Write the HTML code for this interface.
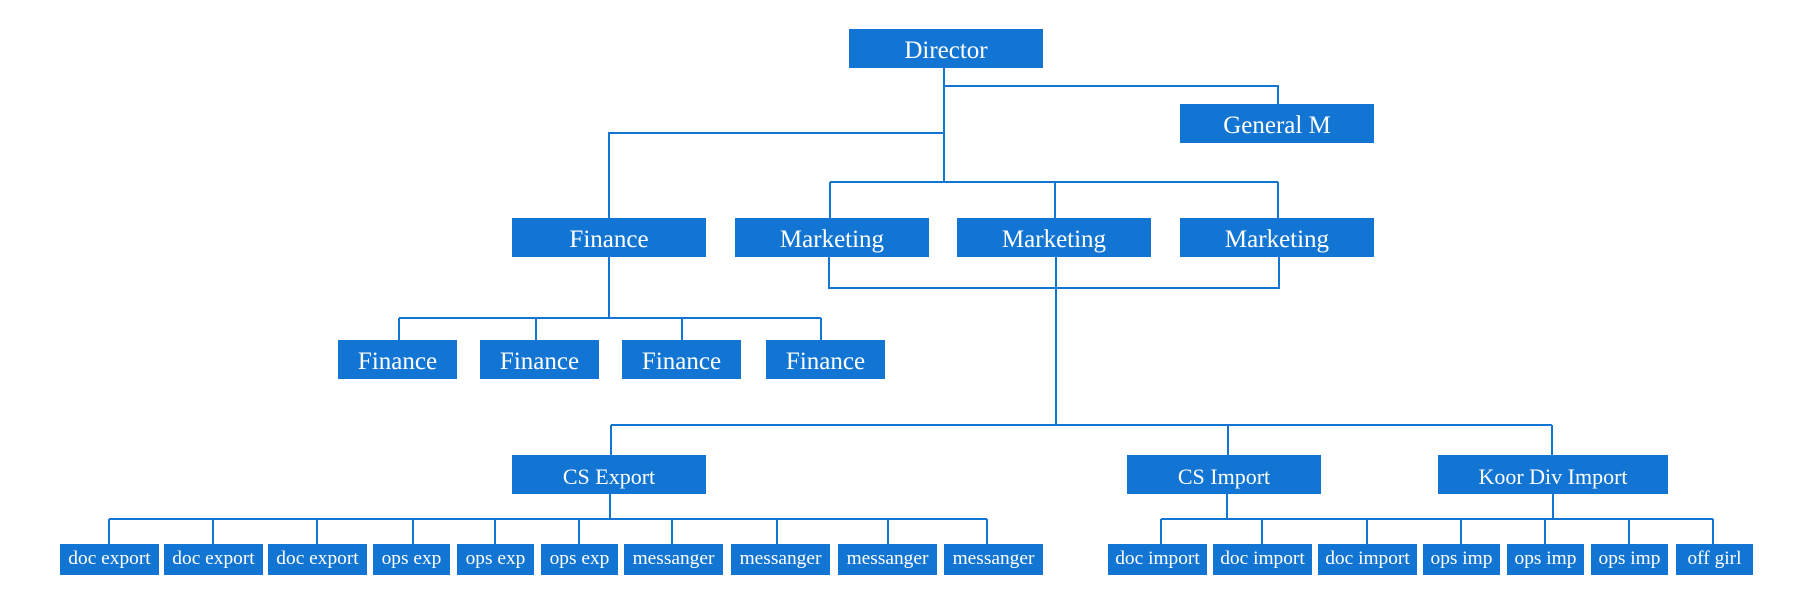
<!DOCTYPE html>
<html>
<head>
<meta charset="utf-8">
<style>
  html,body{margin:0;padding:0;background:#ffffff;}
  svg{display:block;}
  text{font-family:"Liberation Serif","Times New Roman",serif;fill:#ffffff;text-anchor:middle;}
</style>
</head>
<body>
<svg width="1817" height="609" viewBox="0 0 1817 609" xmlns="http://www.w3.org/2000/svg">
  <rect x="0" y="0" width="1817" height="609" fill="#ffffff"/>
  <g stroke="#1375d3" stroke-width="2" fill="none" shape-rendering="crispEdges">
    <!-- Director stem -->
    <path d="M944 68 V182"/>
    <!-- to General M -->
    <path d="M944 86 H1278 V104"/>
    <!-- to Finance -->
    <path d="M944 133 H609 V218"/>
    <!-- Marketing top bar -->
    <path d="M830 182 H1278"/>
    <path d="M830 182 V218"/>
    <path d="M1055 182 V218"/>
    <path d="M1278 182 V218"/>
    <!-- Marketing bottom bar -->
    <path d="M829 257 V288 H1279 V257"/>
    <path d="M1056 257 V425"/>
    <!-- Big bar -->
    <path d="M611 425 H1552"/>
    <path d="M611 425 V455"/>
    <path d="M1228 425 V455"/>
    <path d="M1552 425 V455"/>
    <!-- Finance children -->
    <path d="M609 257 V318"/>
    <path d="M399 318 H821"/>
    <path d="M399 318 V340"/>
    <path d="M536 318 V340"/>
    <path d="M682 318 V340"/>
    <path d="M821 318 V340"/>
    <!-- CS Export children -->
    <path d="M610 494 V519"/>
    <path d="M109 519 H987"/>
    <path d="M109 519 V544"/>
    <path d="M213 519 V544"/>
    <path d="M317 519 V544"/>
    <path d="M413 519 V544"/>
    <path d="M495 519 V544"/>
    <path d="M579 519 V544"/>
    <path d="M672 519 V544"/>
    <path d="M777 519 V544"/>
    <path d="M888 519 V544"/>
    <path d="M987 519 V544"/>
    <!-- CS Import / Koor children -->
    <path d="M1227 494 V519"/>
    <path d="M1553 494 V519"/>
    <path d="M1161 519 H1713"/>
    <path d="M1161 519 V544"/>
    <path d="M1262 519 V544"/>
    <path d="M1367 519 V544"/>
    <path d="M1461 519 V544"/>
    <path d="M1545 519 V544"/>
    <path d="M1629 519 V544"/>
    <path d="M1713 519 V544"/>
  </g>

  <g fill="#1375d3" shape-rendering="crispEdges">
    <rect x="849" y="29" width="194" height="39"/>
    <rect x="1180" y="104" width="194" height="39"/>
    <rect x="512" y="218" width="194" height="39"/>
    <rect x="735" y="218" width="194" height="39"/>
    <rect x="957" y="218" width="194" height="39"/>
    <rect x="1180" y="218" width="194" height="39"/>
    <rect x="338" y="340" width="119" height="39"/>
    <rect x="480" y="340" width="119" height="39"/>
    <rect x="622" y="340" width="119" height="39"/>
    <rect x="766" y="340" width="119" height="39"/>
    <rect x="512" y="455" width="194" height="39"/>
    <rect x="1127" y="455" width="194" height="39"/>
    <rect x="1438" y="455" width="230" height="39"/>
    <!-- leaves left -->
    <rect x="60" y="544" width="99" height="31"/>
    <rect x="164" y="544" width="99" height="31"/>
    <rect x="268" y="544" width="99" height="31"/>
    <rect x="373" y="544" width="77" height="31"/>
    <rect x="457" y="544" width="77" height="31"/>
    <rect x="541" y="544" width="77" height="31"/>
    <rect x="624" y="544" width="99" height="31"/>
    <rect x="731" y="544" width="99" height="31"/>
    <rect x="838" y="544" width="99" height="31"/>
    <rect x="944" y="544" width="99" height="31"/>
    <!-- leaves right -->
    <rect x="1108" y="544" width="99" height="31"/>
    <rect x="1213" y="544" width="99" height="31"/>
    <rect x="1318" y="544" width="99" height="31"/>
    <rect x="1423" y="544" width="77" height="31"/>
    <rect x="1507" y="544" width="77" height="31"/>
    <rect x="1591" y="544" width="77" height="31"/>
    <rect x="1676" y="544" width="77" height="31"/>
  </g>

  <g font-size="25">
    <text x="946" y="58">Director</text>
    <text x="1277" y="133">General M</text>
    <text x="609" y="247">Finance</text>
    <text x="832" y="247">Marketing</text>
    <text x="1054" y="247">Marketing</text>
    <text x="1277" y="247">Marketing</text>
    <text x="397.5" y="369">Finance</text>
    <text x="539.5" y="369">Finance</text>
    <text x="681.5" y="369">Finance</text>
    <text x="825.5" y="369">Finance</text>
  </g>
  <g font-size="22">
    <text x="609" y="484">CS Export</text>
    <text x="1224" y="484">CS Import</text>
    <text x="1553" y="484">Koor Div Import</text>
  </g>
  <g font-size="19.4">
    <text x="109.5" y="564">doc export</text>
    <text x="213.5" y="564">doc export</text>
    <text x="317.5" y="564">doc export</text>
    <text x="411.5" y="564">ops exp</text>
    <text x="495.5" y="564">ops exp</text>
    <text x="579.5" y="564">ops exp</text>
    <text x="673.5" y="564">messanger</text>
    <text x="780.5" y="564">messanger</text>
    <text x="887.5" y="564">messanger</text>
    <text x="993.5" y="564">messanger</text>
    <text x="1157.5" y="564">doc import</text>
    <text x="1262.5" y="564">doc import</text>
    <text x="1367.5" y="564">doc import</text>
    <text x="1461.5" y="564">ops imp</text>
    <text x="1545.5" y="564">ops imp</text>
    <text x="1629.5" y="564">ops imp</text>
    <text x="1714.5" y="564">off girl</text>
  </g>
</svg>
</body>
</html>
